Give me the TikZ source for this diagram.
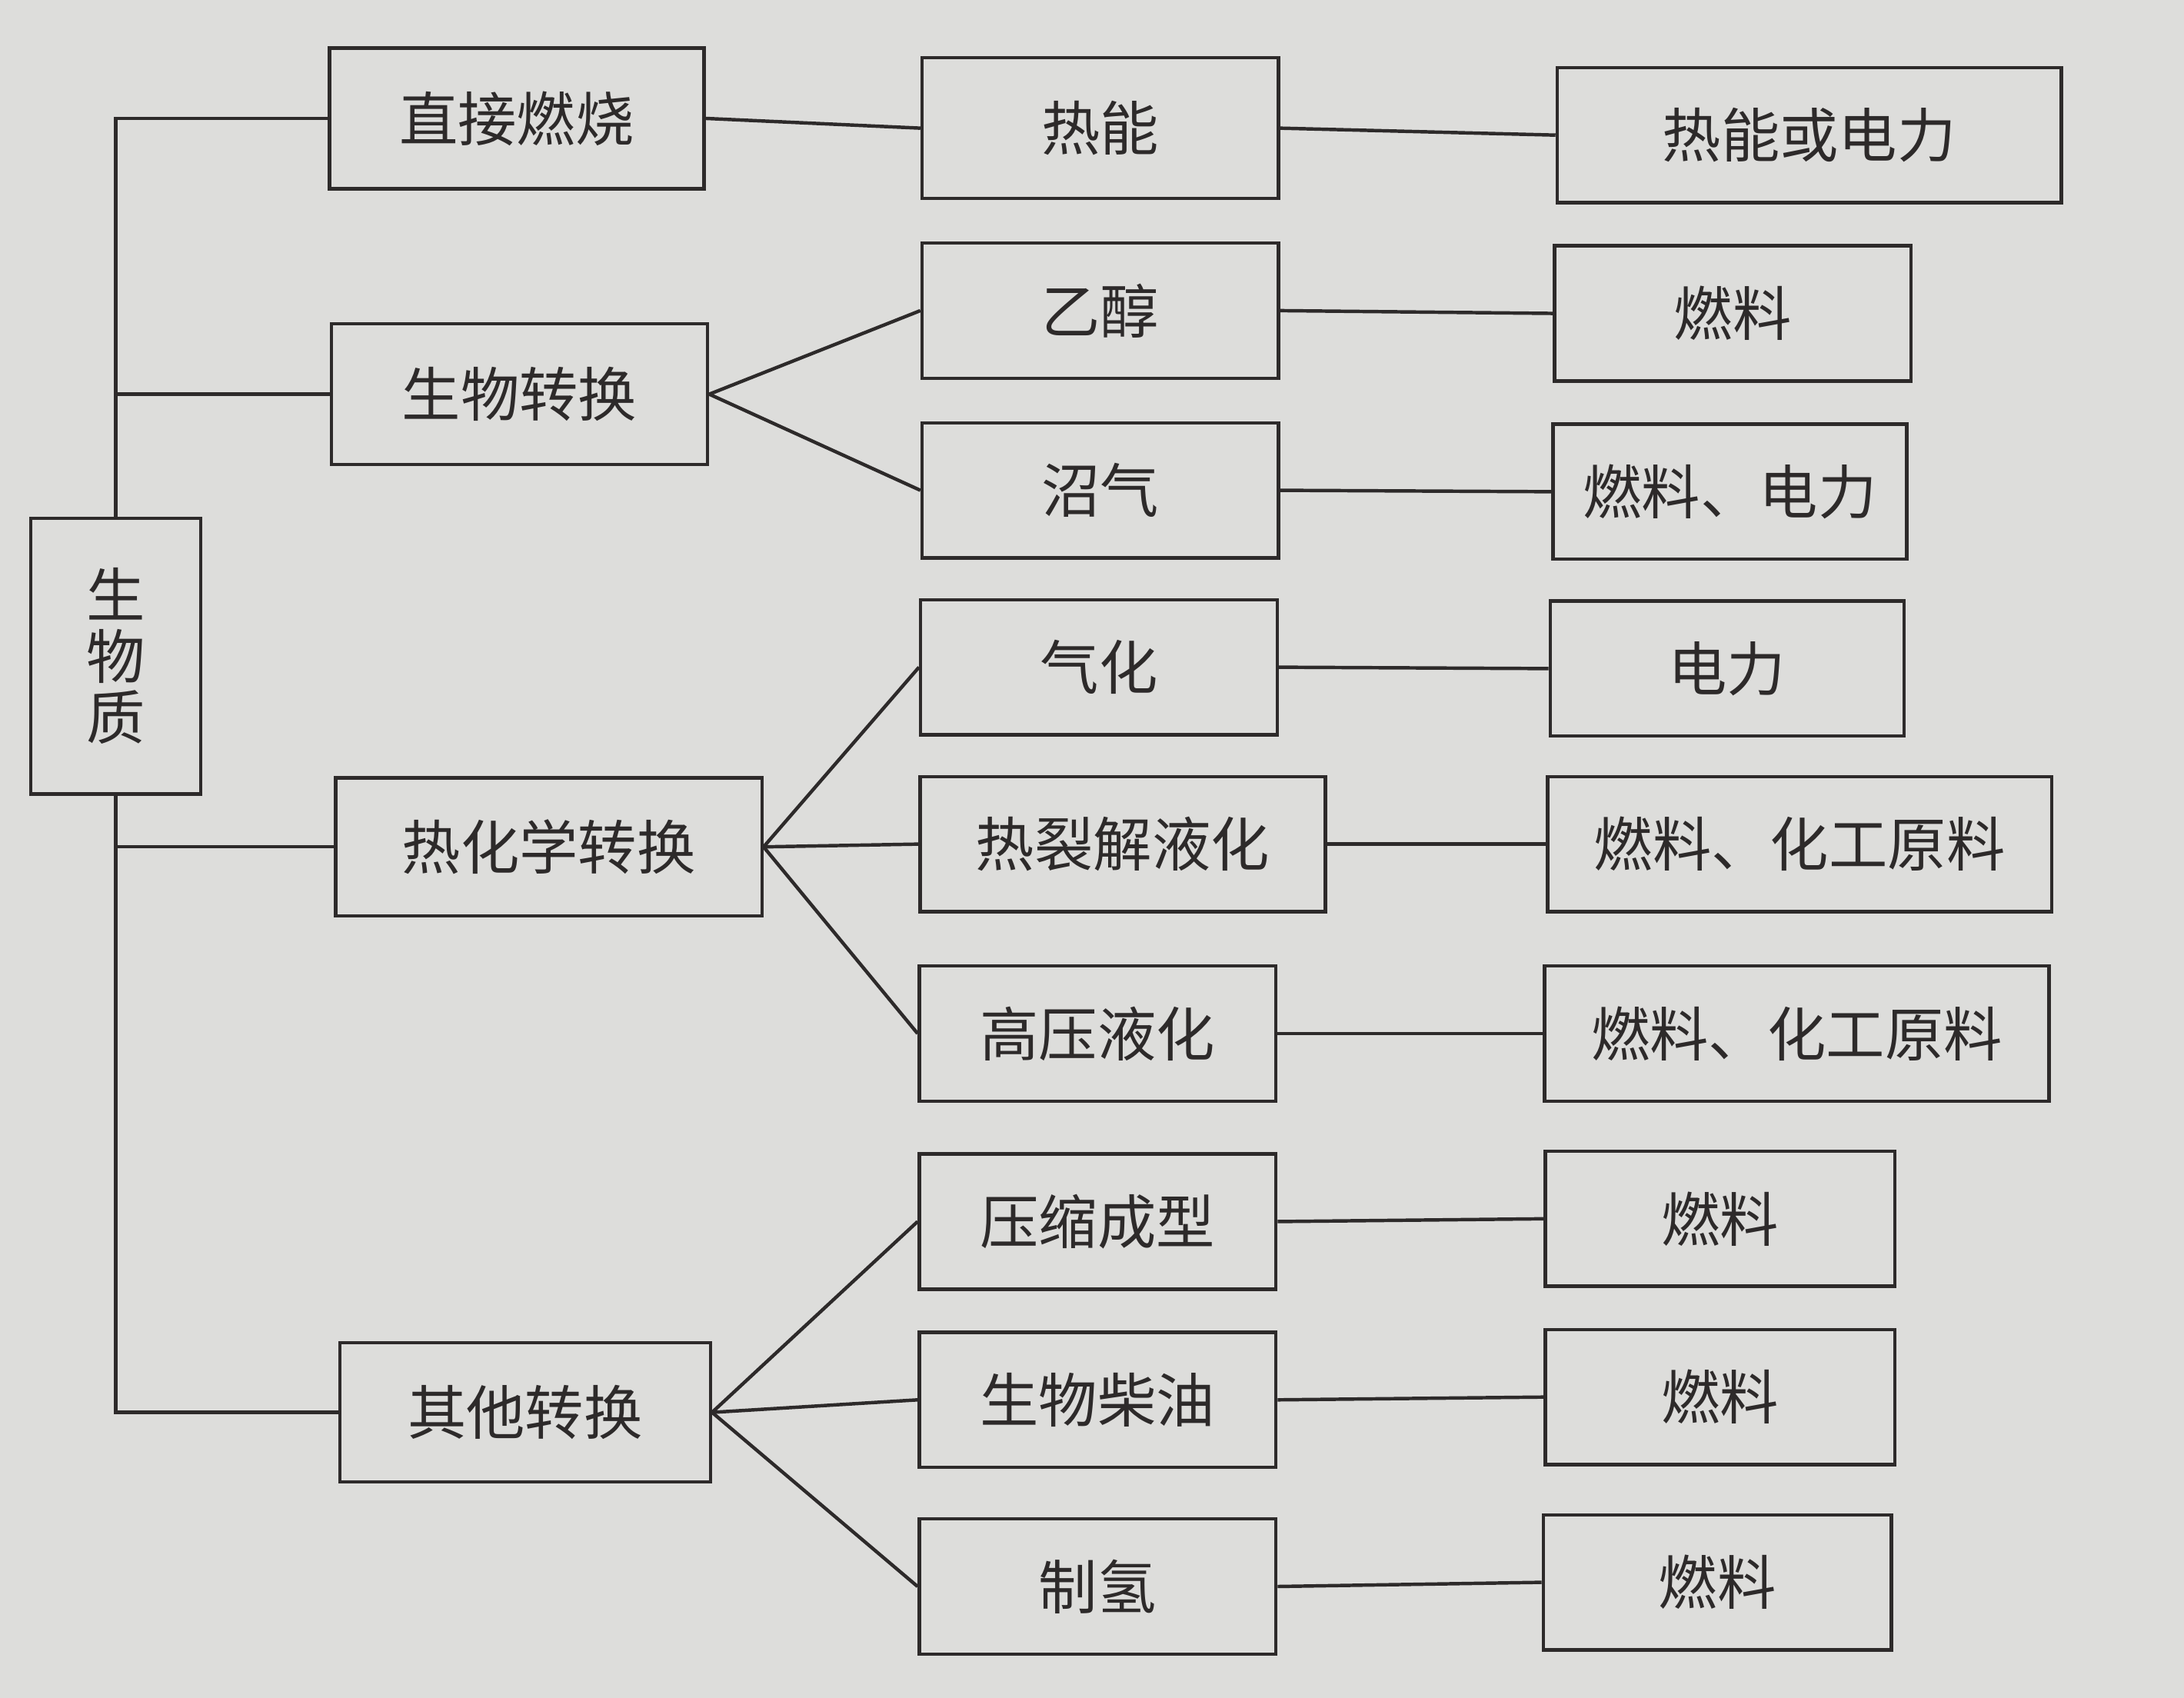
\documentclass[tikz,border=0pt]{standalone}
\usepackage{fontspec}
\newfontfamily\cjk{Noto Sans CJK SC}
\usepackage{tikz}
\usetikzlibrary{calc}
\definecolor{paper}{RGB}{221,221,219}
\definecolor{ink}{RGB}{45,42,42}
\tikzset{%
  box/.style={draw=ink, line width=0.7pt, text=ink, inner sep=0pt,
    minimum width=25.6mm, minimum height=9.7mm,
    font=\cjk\fontsize{12}{12.5}\selectfont}, % plain box
  widebox/.style={box, minimum width=36.2mm}, % long labels
  link/.style={draw=ink, line width=0.7pt}%
}

\begin{document}
\begin{tikzpicture}[x=0.1mm,y=-0.1mm] % biomass conversion routes
    \fill[paper] (0,0) rectangle (1568,1219);
    
    % root
    \node[box, minimum width=12.2mm, minimum height=19.8mm, align=center] (biomass) at (83,471) {生\\物\\质};
    
    % conversion routes
    \node[box, minimum width=26.9mm, minimum height=10.1mm] (direct) at (371,85) {直接燃烧};
    \node[box, minimum width=27mm, minimum height=10.1mm] (bio) at (373,283) {生物转换};
    \node[box, minimum width=30.6mm, minimum height=9.9mm] (thermo) at (394,608) {热化学转换};
    \node[box, minimum width=26.6mm, minimum height=10mm] (other) at (377,1014) {其他转换};
    
    % products
    \node[box, minimum height=10.1mm] (heat) at (790,92) {热能};
    \node[box] (ethanol) at (790,223) {乙醇};
    \node[box] (biogas) at (790,352) {沼气};
    \node[box] (gasify) at (789,479) {气化};
    \node[box, minimum width=29.1mm] (pyro) at (806,606) {热裂解液化};
    \node[box] (hpliq) at (788,742) {高压液化};
    \node[box] (press) at (788,877) {压缩成型};
    \node[box] (diesel) at (788,1005) {生物柴油};
    \node[box] (hydro) at (788,1139) {制氢};
    
    % uses
    \node[widebox] (useA) at (1299,97) {热能或电力};
    \node[box] (useB) at (1244,225) {燃料};
    \node[box, minimum width=25.4mm] (useC) at (1242,353) {燃料、电力};
    \node[box, minimum width=25.4mm] (useD) at (1240,480) {电力};
    \node[widebox] (useE) at (1292,606) {燃料、化工原料};
    \node[widebox] (useF) at (1290,742) {燃料、化工原料};
    \node[box, minimum width=25.1mm] (useG) at (1235,875) {燃料};
    \node[box, minimum width=25.1mm] (useH) at (1235,1003) {燃料};
    \node[box, minimum width=25mm] (useI) at (1233,1136) {燃料};
    
    % trunk
    \draw[link] (biomass.north) |- (direct.west);
    \draw[link] (biomass.north |- bio.west) -- (bio.west);
    \draw[link] (biomass.south) |- (other.west);
    \draw[link] (biomass.south |- thermo.west) -- (thermo.west);
    
    % fans
    \draw[link] (direct.east) -- (heat.west);
    \foreach \n in {ethanol,biogas} { \draw[link] (bio.east) -- (\n.west); }
    \foreach \n in {gasify,pyro,hpliq} { \draw[link] (thermo.east) -- (\n.west); }
    \foreach \n in {press,diesel,hydro} { \draw[link] (other.east) -- (\n.west); }
    
    % to uses
    \foreach \a/\b in {heat/useA,ethanol/useB,biogas/useC,gasify/useD,pyro/useE,
      hpliq/useF,press/useG,diesel/useH,hydro/useI} { \draw[link] (\a.east) -- (\b.west); }
    
    \end{tikzpicture}
\end{document}
